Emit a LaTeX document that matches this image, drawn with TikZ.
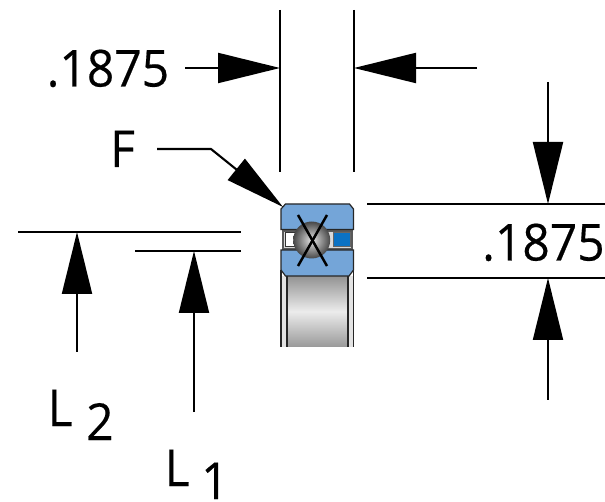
\documentclass[tikz,border=0pt]{standalone}
\usepackage{fontspec}
\setmainfont{Open Sans}
\newfontfamily\dimfont[FakeStretch=0.94,FakeBold=0.35]{Open Sans}
\usetikzlibrary{arrows.meta}
\definecolor{ringblue}{HTML}{74A5D8}
\definecolor{sepblue}{HTML}{0B72C4}
\tikzset{
 x=1pt,y=-1pt,
 dim/.style={line width=2.1pt,draw=black},
 bigtip/.style={dim,-{Triangle[length=62pt,width=30pt,fill=black]}},
 lbl/.style={inner sep=0pt,anchor=base west,text=black},
 num/.style={lbl,font=\dimfont\fontsize{51}{51}\selectfont},
 ltr/.style={lbl,font=\dimfont\fontsize{51}{51}\selectfont},
 part/.style={draw=black!85,line width=1.2pt},
}
\begin{document}
\begin{tikzpicture}
\useasboundingbox (0,0) rectangle (605,502);
% lower bearing bore
\shade[top color=gray!85,bottom color=gray!80,middle color=gray!15] (287,276) rectangle (348,347);
\fill[gray!22] (281,276) rectangle (287,347);
\fill[gray!22] (348,276) rectangle (353.5,347);
\draw[part,line width=1.6pt] (281,270) -- (281,347);
\draw[part,line width=1.6pt] (353.5,270) -- (353.5,347);
\draw[part,line width=2pt] (287,276) -- (287,347);
\draw[part,line width=2pt] (348,276) -- (348,347);
% gap between the rings
\fill[black!65] (281.5,229) rectangle (353,251);
\fill[gray!30] (284,232) rectangle (351,248);
\fill[white] (286,233) rectangle (296,246);
\fill[sepblue] (334,233) rectangle (350,246);
\draw[black!80,line width=1pt] (285,232.5) rectangle (297,246.5);
\draw[black!60,line width=0.8pt] (333,232.5) rectangle (350.5,246.5);
% rings
\draw[part,fill=ringblue] (285.5,204) -- (349.5,204) -- (353.5,209) -- (353.5,229.5) -- (281,229.5) -- (281,209) -- cycle;
\draw[part,fill=ringblue] (281,250) -- (353.5,250) -- (353.5,270) -- (349,276) -- (285.5,276) -- (281,270) -- cycle;
% ball and contact cross
\shade[inner color=gray!22,outer color=black!72] (311.7,240) circle (18.5);
\draw[line width=2.5pt] (298,215) -- (327,266);
\draw[line width=2.5pt] (327,215) -- (298,266);
% extension lines
\coordinate (wl1) at (280,10); \coordinate (wl2) at (280,172);
\coordinate (wr1) at (354,10); \coordinate (wr2) at (354,172);
\coordinate (ht1) at (367,204); \coordinate (ht2) at (605,204);
\coordinate (hb1) at (367,278); \coordinate (hb2) at (605,278);
\coordinate (l2a) at (18,232); \coordinate (l2b) at (241,232);
\coordinate (l1a) at (135,251); \coordinate (l1b) at (241,251);
\draw[dim] (wl1) -- (wl2);
\draw[dim] (wr1) -- (wr2);
\draw[dim] (ht1) -- (ht2);
\draw[dim] (hb1) -- (hb2);
\draw[dim] (l2a) -- (l2b);
\draw[dim] (l1a) -- (l1b);
% dimension arrows
\coordinate (a1s) at (185,68); \coordinate (a1e) at (280,68);
\coordinate (a2s) at (477,68); \coordinate (a2e) at (354,68);
\coordinate (a3s) at (548,82); \coordinate (a3e) at (548,204);
\coordinate (a4s) at (548,400); \coordinate (a4e) at (548,278);
\coordinate (a5s) at (77,352); \coordinate (a5e) at (77,232);
\coordinate (a6s) at (194,412); \coordinate (a6e) at (194,251);
\draw[bigtip] (a1s) -- (a1e);
\draw[bigtip] (a2s) -- (a2e);
\draw[bigtip] (a3s) -- (a3e);
\draw[bigtip] (a4s) -- (a4e);
\draw[bigtip] (a5s) -- (a5e);
\draw[bigtip] (a6s) -- (a6e);
% leader F
\coordinate (fs) at (157,149); \coordinate (fk) at (211,149); \coordinate (fe) at (283,207);
\draw[dim,-{Triangle[length=60pt,width=27pt,fill=black]}] (fs) -- (fk) -- (fe);
% labels
\node[num] (w) at (46.5,86.5) {.1875};
\node[num] (h) at (482,260.5) {.1875};
\node[ltr] (f) at (110,167) {F};
\node[ltr] (l2) at (47.5,426) {L};
\node[ltr] (n2) at (86,440) {2};
\node[ltr] (l1) at (164.5,486) {L};
\node[ltr] (n1) at (201,499) {1};
\end{tikzpicture}
\end{document}
